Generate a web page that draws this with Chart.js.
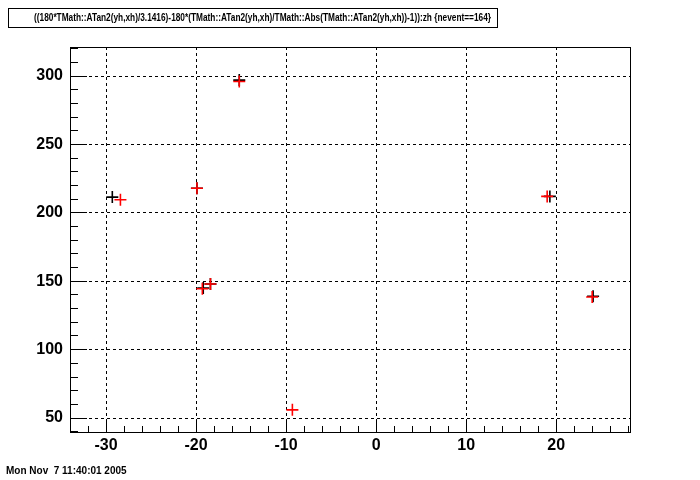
<!DOCTYPE html>
<html>
<head>
<meta charset="utf-8">
<script src="https://cdn.jsdelivr.net/npm/chart.js@4"></script>
<style>
  html, body { margin: 0; padding: 0; background: #fff; }
  #wrap { width: 700px; height: 480px; position: relative; }
</style>
</head>
<body>
<div id="wrap"><canvas id="c"></canvas></div>
<script>
// --- data ---
const titleText = '((180*TMath::ATan2(yh,xh)/3.1416)-180*(TMath::ATan2(yh,xh)/TMath::Abs(TMath::ATan2(yh,xh))-1)):zh {nevent==164}';
const dateText = 'Mon Nov  7 11:40:01 2005';

const xTicks = [-30, -20, -10, 0, 10, 20];
const yTicks = [50, 100, 150, 200, 250, 300];

// black markers
const blackX = [-29.3, -15.2, -19.9, -19.2, -18.4, 19.3, 24.1];
const blackY = [211.5, 297, 218, 145, 148, 212, 139];
// red markers
const redX = [-28.4, -15.2, -19.9, -19.3, -18.4, -9.3, 19.0, 24.0];
const redY = [209.5, 296, 218, 144.5, 148, 56, 212, 138.5];

const toPts = (xs, ys) => xs.map((x, i) => ({ x: x, y: ys[i] }));

// same pixel snapping as the grid lines
const snap = p => Math.round(p - 0.5) + 0.5;

// ROOT style frame, minor ticks, title box and date
const rootDeco = {
  id: 'rootDeco',
  beforeDraw(chart) {
    const c = chart.ctx;
    c.save();
    c.fillStyle = '#fff';
    c.fillRect(0, 0, chart.width, chart.height);
    c.restore();
  },
  afterDraw(chart) {
    const c = chart.ctx;
    const a = chart.chartArea;
    const xs = chart.scales.x, ys = chart.scales.y;
    c.save();
    c.strokeStyle = '#000';
    c.lineWidth = 1;
    c.strokeRect(snap(a.left), snap(a.top), Math.round(a.right - a.left), Math.round(a.bottom - a.top));

    c.beginPath();
    // x ticks (every 2 units, major every 10)
    for (let v = -34; v <= 28; v += 2) {
      const px = snap(xs.getPixelForValue(v));
      const len = (v % 10 === 0) ? 12 : 6;
      c.moveTo(px, a.bottom);
      c.lineTo(px, a.bottom - len);
    }
    // y ticks (every 10 units, major every 50)
    for (let v = 40; v <= 320; v += 10) {
      const py = snap(ys.getPixelForValue(v));
      const len = (v % 50 === 0) ? 17 : 8;
      c.moveTo(a.left, py);
      c.lineTo(a.left + len, py);
    }
    c.stroke();

    // title box
    c.fillStyle = '#fff';
    c.fillRect(8, 8, 489, 19);
    c.strokeRect(8.5, 8.5, 489, 19);
    c.fillStyle = '#000';
    c.font = 'bold 10px "Liberation Sans", Arial, sans-serif';
    c.textBaseline = 'middle';
    c.fillText(titleText, 34, 18, 457);

    // date stamp
    c.textBaseline = 'alphabetic';
    c.fillText(dateText, 6, 474, 128);
    c.restore();
  }
};

new Chart(document.getElementById('c'), {
  type: 'scatter',
  data: {
    datasets: [
      {
        label: 'red',
        data: toPts(redX, redY),
        pointStyle: 'cross',
        pointRadius: 6,
        pointBorderWidth: 1.6,
        borderColor: '#ff0000',
        backgroundColor: '#ff0000',
        showLine: false,
      },
      {
        label: 'black',
        data: toPts(blackX, blackY),
        pointStyle: 'cross',
        pointRadius: 6,
        pointBorderWidth: 1.6,
        borderColor: '#000',
        backgroundColor: '#000',
        showLine: false,
      },
    ]
  },
  options: {
    responsive: true,
    maintainAspectRatio: false,
    animation: false,
    layout: { padding: { left: 0, right: 70, top: 47, bottom: 0 } },
    plugins: {
      legend: { display: false },
      tooltip: { enabled: false },
      title: { display: false },
    },
    scales: {
      x: {
        type: 'linear',
        min: -34,
        max: 28.2,
        afterBuildTicks: s => { s.ticks = xTicks.map(v => ({ value: v })); },
        afterFit: s => { s.height = 48; },
        grid: { color: '#000', lineWidth: 1, drawTicks: false },
        border: { display: true, color: '#000', width: 1, dash: [3, 3] },
        ticks: {
          color: '#000',
          padding: 4,
          font: { family: '"Liberation Sans", Arial, sans-serif', size: 16, weight: 'bold' },
        },
      },
      y: {
        type: 'linear',
        min: 39.8,
        max: 321.2,
        afterBuildTicks: s => { s.ticks = yTicks.map(v => ({ value: v })); },
        afterFit: s => { s.width = 70; },
        grid: { color: '#000', lineWidth: 1, drawTicks: false },
        border: { display: true, color: '#000', width: 1, dash: [3, 3] },
        ticks: {
          color: '#000',
          padding: 7,
          font: { family: '"Liberation Sans", Arial, sans-serif', size: 16, weight: 'bold' },
        },
      },
    },
  },
  plugins: [rootDeco],
});
</script>
</body>
</html>
